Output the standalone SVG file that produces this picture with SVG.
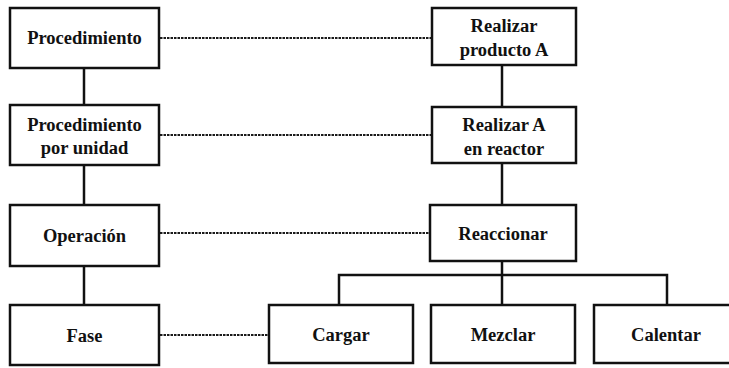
<svg xmlns="http://www.w3.org/2000/svg" width="729" height="368" viewBox="0 0 729 368">
  <style>
    .box { fill: #ffffff; stroke: #111111; stroke-width: 2.5; }
    .link { fill: none; stroke: #111111; stroke-width: 2.5; }
    .dot { fill: none; stroke: #1a1a1a; stroke-width: 2.2; stroke-dasharray: 2.5 1; }
    .lbl { font-family: "Liberation Serif", "Times New Roman", serif; font-size: 18.5px; font-weight: bold; fill: #111111; text-anchor: middle; }
  </style>
  <rect width="729" height="368" fill="#ffffff"/>

  <!-- connectors -->
  <g id="connectors">
    <!-- hierarchy (left column) -->
    <line class="link" x1="84" y1="68" x2="84" y2="105"/>
    <line class="link" x1="84" y1="165" x2="84" y2="205"/>
    <line class="link" x1="84" y1="266" x2="84" y2="305"/>
    <!-- hierarchy (right column) -->
    <line class="link" x1="502" y1="65" x2="502" y2="107"/>
    <line class="link" x1="502" y1="163" x2="502" y2="205"/>
    <polyline class="link" points="502,261 502,275"/>
    <polyline class="link" points="339,305 339,275 667,275 667,305"/>
    <line class="link" x1="502" y1="275" x2="502" y2="305"/>
    <!-- correspondences -->
    <line class="dot" x1="160" y1="38" x2="432" y2="38"/>
    <line class="dot" x1="160" y1="135" x2="432" y2="135"/>
    <line class="dot" x1="160" y1="233" x2="430" y2="233"/>
    <line class="dot" x1="160" y1="335" x2="269" y2="335"/>
  </g>

  <g id="procedimiento">
    <rect class="box" x="10" y="8" width="149" height="60"/>
    <text class="lbl" x="84.5" y="44">Procedimiento</text>
  </g>
  <g id="procedimiento-unidad">
    <rect class="box" x="10" y="105" width="149" height="60"/>
    <text class="lbl" x="84.5" y="131">Procedimiento</text>
    <text class="lbl" x="84.5" y="154">por unidad</text>
  </g>
  <g id="operacion">
    <rect class="box" x="10" y="205" width="149" height="61"/>
    <text class="lbl" x="84.5" y="242">Operación</text>
  </g>
  <g id="fase">
    <rect class="box" x="10" y="305" width="149" height="60"/>
    <text class="lbl" x="84.5" y="342">Fase</text>
  </g>

  <g id="realizar-producto">
    <rect class="box" x="432" y="8" width="144" height="57"/>
    <text class="lbl" x="504" y="32">Realizar</text>
    <text class="lbl" x="504" y="56">producto A</text>
  </g>
  <g id="realizar-reactor">
    <rect class="box" x="432" y="107" width="144" height="56"/>
    <text class="lbl" x="504" y="131">Realizar A</text>
    <text class="lbl" x="504" y="155">en reactor</text>
  </g>
  <g id="reaccionar">
    <rect class="box" x="430" y="205" width="146" height="56"/>
    <text class="lbl" x="503" y="240">Reaccionar</text>
  </g>
  <g id="cargar">
    <rect class="box" x="269" y="305" width="144" height="58"/>
    <text class="lbl" x="341" y="341">Cargar</text>
  </g>
  <g id="mezclar">
    <rect class="box" x="431" y="305" width="144" height="58"/>
    <text class="lbl" x="503" y="341">Mezclar</text>
  </g>
  <g id="calentar">
    <rect class="box" x="594" y="305" width="146" height="58"/>
    <text class="lbl" x="666" y="341">Calentar</text>
  </g>
</svg>
